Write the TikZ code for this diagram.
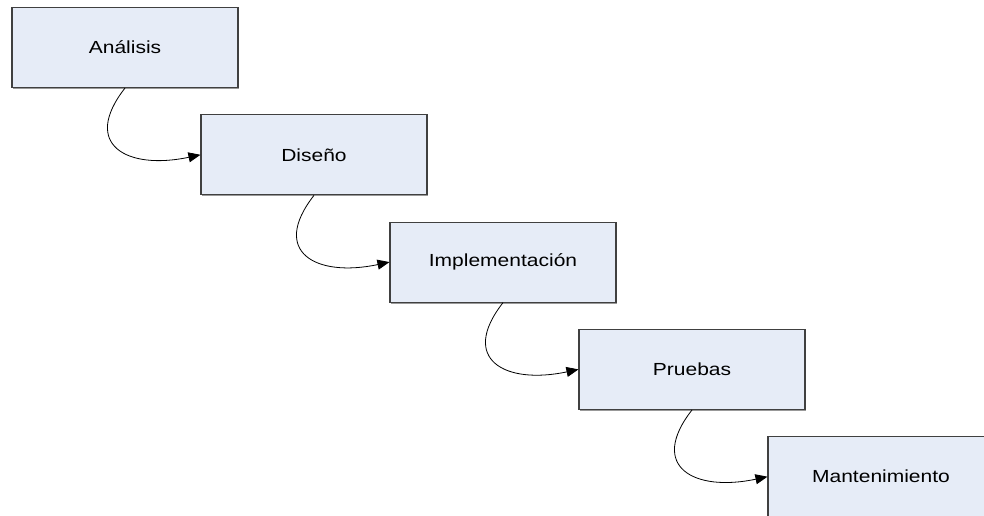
\documentclass[tikz,border=0pt]{standalone}
\usepackage{fontspec}
\setmainfont{Liberation Sans}[FakeStretch=1.2]
\usetikzlibrary{arrows.meta,shadows}
\definecolor{cajafondo}{RGB}{230,236,247}
\definecolor{cajaborde}{RGB}{64,64,64}
\tikzset{
  etapa/.style={draw=cajaborde, line width=1.1pt, fill=cajafondo,
    minimum width=226pt, minimum height=80pt, inner sep=0pt,
    font=\fontsize{17.5}{20}\selectfont,
    drop shadow={shadow xshift=1.2pt, shadow yshift=-1.4pt, fill=black!40, opacity=1}},
  flecha/.style={line width=0.8pt, -{Triangle[length=12pt,width=10pt]}}
}
\begin{document}
\begin{tikzpicture}[x=1pt,y=1pt]
\useasboundingbox (0,0) rectangle (984,515);
\clip (0,0) rectangle (984,515);
% 189 = paso en x, 107.3 = paso en y
\foreach \nom/\txt [count=\i from 0] in {ana/Análisis, dis/Diseño, imp/Implementación, pru/Pruebas, man/Mantenimiento}{
	\node[etapa] (\nom) at ({125+\i*189}, {467.5-\i*107.3}) {\txt};
}
\foreach \a/\b in {ana/dis, dis/imp, imp/pru, pru/man}{
	\draw[flecha] (\a.south) .. controls +(232:72pt) and +(192:75pt) .. (\b.west);
}
\end{tikzpicture}
\end{document}
